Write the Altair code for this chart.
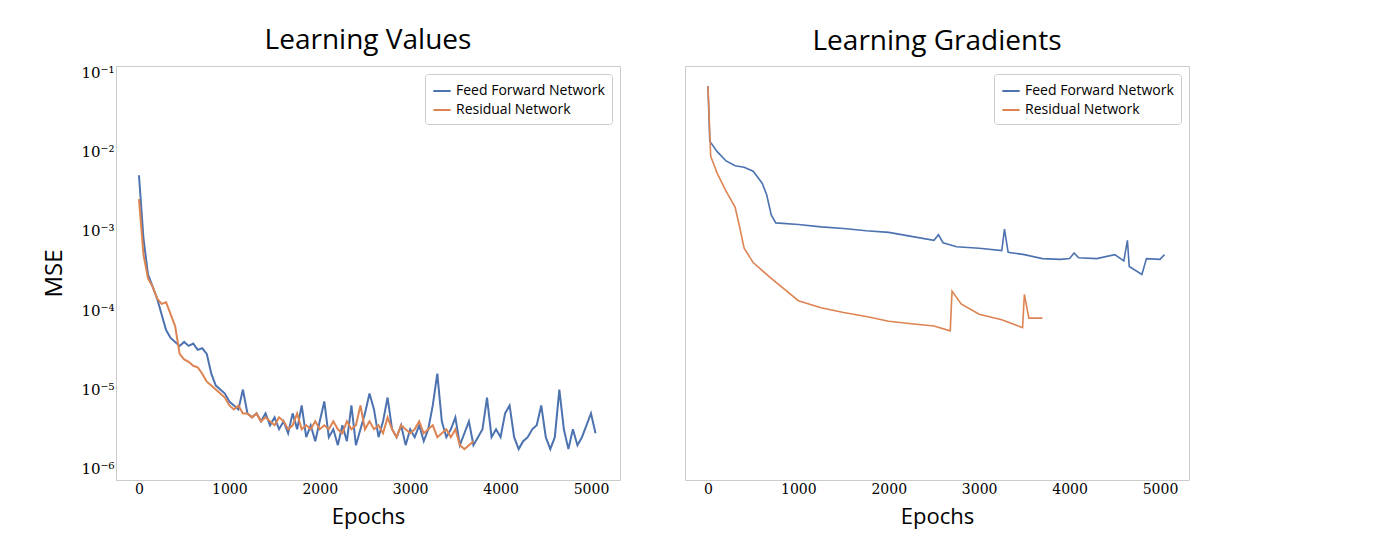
import altair as alt
import pandas as pd

# log10(MSE)
val_ffn = [-2.3, -3.1, -3.55, -3.7, -3.85, -4.05, -4.25, -4.35, -4.4, -4.45, -4.4, -4.45, -4.42, -4.5, -4.48,
           -4.55, -4.8, -4.95, -5.0, -5.05, -5.15, -5.2, -5.25, -5.0, -5.3, -5.35, -5.3, -5.4, -5.3, -5.45,
           -5.35, -5.5, -5.4, -5.55, -5.3, -5.5, -5.2, -5.6, -5.45, -5.65, -5.4, -5.15, -5.6, -5.5, -5.7,
           -5.45, -5.65, -5.2, -5.7, -5.5, -5.3, -5.05, -5.25, -5.6, -5.4, -5.1, -5.5, -5.6, -5.45, -5.7,
           -5.5, -5.6, -5.45, -5.65, -5.5, -5.2, -4.8, -5.4, -5.6, -5.5, -5.35, -5.7, -5.55, -5.4, -5.7,
           -5.6, -5.5, -5.1, -5.6, -5.5, -5.6, -5.3, -5.2, -5.6, -5.75, -5.65, -5.6, -5.5, -5.45, -5.2,
           -5.6, -5.75, -5.6, -5.0, -5.5, -5.75, -5.5, -5.7, -5.6, -5.45, -5.3, -5.55]
val_res = [-2.6, -3.3, -3.6, -3.7, -3.85, -3.92, -3.9, -4.05, -4.2, -4.55, -4.62, -4.65, -4.7, -4.72, -4.8,
           -4.9, -4.95, -5.0, -5.05, -5.1, -5.2, -5.25, -5.2, -5.3, -5.3, -5.35, -5.3, -5.4, -5.35, -5.4,
           -5.45, -5.35, -5.4, -5.5, -5.45, -5.3, -5.5, -5.45, -5.5, -5.4, -5.5, -5.45, -5.5, -5.4, -5.5,
           -5.55, -5.4, -5.5, -5.45, -5.2, -5.5, -5.4, -5.5, -5.45, -5.55, -5.35, -5.5, -5.6, -5.45, -5.5,
           -5.55, -5.5, -5.4, -5.55, -5.5, -5.45, -5.6, -5.55, -5.5, -5.6, -5.5, -5.7, -5.75, -5.7, -5.65]

grad_ffn_x = [0, 20, 100, 200, 300, 400, 500, 600, 650, 700, 750, 1000, 1250, 1500, 1750, 2000, 2250, 2500,
              2550, 2600, 2750, 3000, 3250, 3280, 3320, 3500, 3700, 3900, 4000, 4050, 4100, 4300, 4500,
              4600, 4640, 4660, 4800, 4850, 5000, 5050]
grad_ffn_y = [-1.18, -1.87, -2.0, -2.12, -2.18, -2.2, -2.25, -2.4, -2.55, -2.8, -2.9, -2.92, -2.95, -2.97,
              -3.0, -3.02, -3.07, -3.12, -3.05, -3.15, -3.2, -3.22, -3.25, -2.98, -3.27, -3.3, -3.35, -3.36,
              -3.35, -3.28, -3.34, -3.35, -3.3, -3.38, -3.12, -3.45, -3.55, -3.35, -3.36, -3.3]
grad_res_x = [0, 30, 100, 200, 300, 350, 400, 500, 700, 1000, 1250, 1500, 1750, 2000, 2250, 2500, 2680,
              2700, 2800, 3000, 3250, 3480, 3500, 3550, 3700]
grad_res_y = [-1.18, -2.06, -2.27, -2.5, -2.7, -2.95, -3.22, -3.4, -3.6, -3.88, -3.97, -4.03, -4.08, -4.14,
              -4.17, -4.2, -4.26, -3.76, -3.92, -4.05, -4.12, -4.22, -3.8, -4.1, -4.1]

FFN = "Feed Forward Network"
RES = "Residual Network"

df_val = pd.concat([
    pd.DataFrame({"epoch": [50 * i for i in range(len(val_ffn))], "mse": [10 ** v for v in val_ffn], "net": FFN}),
    pd.DataFrame({"epoch": [50 * i for i in range(len(val_res))], "mse": [10 ** v for v in val_res], "net": RES}),
])
df_grad = pd.concat([
    pd.DataFrame({"epoch": grad_ffn_x, "mse": [10 ** v for v in grad_ffn_y], "net": FFN}),
    pd.DataFrame({"epoch": grad_res_x, "mse": [10 ** v for v in grad_res_y], "net": RES}),
])

sans = "Open Sans"
serif = "DejaVu Serif"
sup = "{'-1':'⁻¹','-2':'⁻²','-3':'⁻³','-4':'⁻⁴','-5':'⁻⁵','-6':'⁻⁶'}"


def panel(df, title, show_y, lw):
    yaxis = alt.Axis(values=[1e-6, 1e-5, 1e-4, 1e-3, 1e-2, 1e-1], grid=False, ticks=False,
                     labelExpr="'10' + " + sup + "[toString(round(log(datum.value)/LN10))]",
                     labelFont=serif, labelFontSize=15, titleFont=sans, titleFontSize=24,
                     titleFontWeight="normal", titlePadding=14, domain=False, labels=show_y)
    return alt.Chart(df, title=title).mark_line(strokeWidth=lw).encode(
        alt.X("epoch:Q", scale=alt.Scale(domain=[-254, 5321], nice=False),
              axis=alt.Axis(values=[0, 1000, 2000, 3000, 4000, 5000], format="d", grid=False, ticks=False,
                            domain=False, labelFont=serif, labelFontSize=14, titleFont=sans, titleFontSize=22,
                            titleFontWeight="normal", titlePadding=10)).title("Epochs"),
        alt.Y("mse:Q", scale=alt.Scale(type="log", domain=[10 ** -6.139, 10 ** -0.924], nice=False),
              axis=yaxis).title("MSE" if show_y else ""),
        color=alt.Color("net:N", scale=alt.Scale(domain=[FFN, RES], range=["#4c72b0", "#dd8452"]),
                        legend=alt.Legend(title=None, orient="top-right", offset=8, labelFont=sans,
                                          labelFontSize=14, symbolType="stroke", symbolStrokeWidth=2,
                                          symbolSize=300, strokeColor="#cccccc", padding=7, cornerRadius=3,
                                          fillColor="white")),
    ).properties(width=504, height=414)


chart = alt.hconcat(
    panel(df_val, "Learning Values", True, 2),
    panel(df_grad, "Learning Gradients", False, 1.6),
    spacing=63,
).resolve_legend(color="independent").configure_view(stroke="#cccccc").configure_title(
    font=sans, fontSize=28, fontWeight="normal", offset=10
).properties(padding={"left": 34, "top": 18, "right": 10, "bottom": 5})

chart.save("out.html", embed_options={"renderer": "svg", "actions": False})
